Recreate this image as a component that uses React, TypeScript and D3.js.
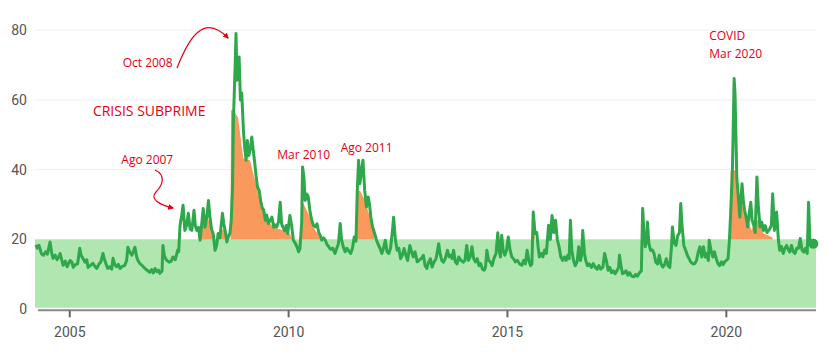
import { useEffect, useRef } from "react";
import * as d3 from "d3";

// VIX weekly close as [decimal year, value]
const vix2004to2007: [number, number][] = [
    [2004.24, 18.5], [2004.27, 17.5], [2004.31, 18.3], [2004.36, 16], [2004.41, 15.5], [2004.46, 16.5],
    [2004.5, 15.8], [2004.56, 19.3], [2004.6, 16], [2004.63, 14.6], [2004.68, 15.5], [2004.72, 14.2],
    [2004.76, 15], [2004.79, 16], [2004.83, 14], [2004.86, 12.6], [2004.91, 13.8], [2004.95, 12.2],
    [2005.02, 14], [2005.06, 13.5], [2005.09, 12], [2005.14, 12.8], [2005.19, 13], [2005.24, 17.5],
    [2005.27, 15.5], [2005.31, 14.6], [2005.36, 13.5], [2005.4, 14.2], [2005.43, 12], [2005.48, 12.5],
    [2005.54, 13.2], [2005.58, 12.4], [2005.63, 11.7], [2005.68, 13], [2005.72, 13.5], [2005.77, 16],
    [2005.8, 14.5], [2005.84, 13], [2005.88, 11.7], [2005.93, 12.2], [2005.97, 11.5], [2006.0, 14.6],
    [2006.04, 12.8], [2006.08, 12.2], [2006.12, 12.9], [2006.16, 11.7], [2006.21, 12.3], [2006.27, 12.6],
    [2006.31, 14], [2006.34, 17.8], [2006.38, 16.5], [2006.43, 15.5], [2006.46, 16.4], [2006.5, 17.8],
    [2006.54, 15], [2006.57, 14], [2006.62, 13], [2006.67, 12.5], [2006.73, 11.7], [2006.78, 11.2],
    [2006.84, 10.6], [2006.88, 11.4], [2006.92, 10.4], [2006.96, 11.7], [2007.0, 10.8], [2007.04, 11.2],
    [2007.07, 10.3], [2007.12, 11], [2007.14, 18.3], [2007.17, 15.5], [2007.2, 14.5], [2007.23, 14],
    [2007.28, 13.5], [2007.33, 13.8], [2007.37, 15], [2007.42, 14.2], [2007.48, 17], [2007.5, 16.5],
    [2007.53, 24], [2007.57, 27], [2007.6, 29.8], [2007.64, 22.6], [2007.68, 24], [2007.72, 27.5],
    [2007.76, 23], [2007.8, 22.6], [2007.85, 28.4], [2007.88, 24], [2007.91, 22.6], [2007.95, 23.5],
    [2007.99, 19.8],
];

const vix2008to2011: [number, number][] = [
    [2008.03, 25], [2008.06, 28.9], [2008.1, 23.5], [2008.14, 26], [2008.18, 31.2], [2008.21, 27],
    [2008.25, 23], [2008.29, 21.5], [2008.33, 16.9], [2008.37, 18.5], [2008.4, 21.7], [2008.44, 20.5],
    [2008.47, 24], [2008.5, 27.5], [2008.53, 24.5], [2008.57, 22], [2008.6, 19.3], [2008.64, 21],
    [2008.67, 21.7], [2008.7, 25.5], [2008.73, 35], [2008.75, 54], [2008.77, 62], [2008.79, 70],
    [2008.81, 79], [2008.83, 65.6], [2008.85, 70], [2008.88, 72.3], [2008.91, 60], [2008.94, 62],
    [2008.98, 51], [2009.01, 46], [2009.04, 42.7], [2009.07, 48.4], [2009.1, 44], [2009.13, 45.6],
    [2009.15, 47], [2009.17, 49.4], [2009.2, 46], [2009.23, 42.7], [2009.27, 38], [2009.3, 35],
    [2009.34, 34], [2009.37, 31.2], [2009.41, 29], [2009.44, 28.5], [2009.48, 25.5], [2009.51, 27],
    [2009.55, 24.6], [2009.59, 25.5], [2009.63, 26.4], [2009.67, 23.5], [2009.7, 24.2], [2009.74, 23.6],
    [2009.78, 25], [2009.82, 30.7], [2009.85, 24.5], [2009.88, 23.6], [2009.92, 22.5], [2009.96, 24],
    [2009.99, 21.7], [2010.04, 26.9], [2010.08, 24], [2010.12, 19.8], [2010.16, 19], [2010.2, 18],
    [2010.24, 16.5], [2010.27, 17.4], [2010.31, 25], [2010.33, 40.8], [2010.36, 37.9], [2010.39, 31.2],
    [2010.43, 33], [2010.46, 32.2], [2010.5, 28], [2010.54, 25.5], [2010.58, 24], [2010.62, 23.6],
    [2010.66, 24.5], [2010.7, 22], [2010.74, 21], [2010.77, 19.8], [2010.81, 20.5], [2010.85, 19.8],
    [2010.89, 18.5], [2010.93, 17.9], [2010.97, 17.2], [2011.02, 17.5], [2011.07, 16], [2011.11, 17.5],
    [2011.15, 18.8], [2011.19, 24.6], [2011.22, 20], [2011.26, 17.9], [2011.3, 16.5], [2011.34, 17.5],
    [2011.38, 16.8], [2011.43, 16], [2011.47, 17.5], [2011.51, 20.7], [2011.55, 19.5], [2011.58, 34],
    [2011.61, 42.7], [2011.64, 36], [2011.68, 40], [2011.71, 42.7], [2011.75, 34], [2011.79, 29.3],
    [2011.83, 32.2], [2011.86, 30], [2011.89, 26.4], [2011.93, 23.6], [2011.97, 22],
];

const vix2012to2016: [number, number][] = [
    [2012.02, 19.8], [2012.06, 18.5], [2012.1, 17.5], [2012.14, 16], [2012.18, 17.5], [2012.22, 19.8],
    [2012.26, 16.5], [2012.3, 16], [2012.34, 17.5], [2012.38, 22], [2012.41, 26.4], [2012.45, 20],
    [2012.49, 16.9], [2012.53, 17.5], [2012.57, 14.5], [2012.61, 15.5], [2012.65, 17.4], [2012.69, 15.5],
    [2012.73, 14], [2012.78, 18.3], [2012.82, 16.5], [2012.86, 15], [2012.9, 16.5], [2012.95, 13.6],
    [2013.04, 14.5], [2013.09, 15.5], [2013.13, 12.5], [2013.17, 11.7], [2013.21, 13.5], [2013.25, 14.5],
    [2013.29, 12.1], [2013.33, 13.5], [2013.38, 14.5], [2013.44, 18.8], [2013.47, 16], [2013.51, 14],
    [2013.55, 13.5], [2013.59, 14.5], [2013.64, 16.9], [2013.68, 15], [2013.72, 15.5], [2013.75, 14.5],
    [2013.78, 16.9], [2013.82, 13.6], [2013.86, 13], [2013.9, 15], [2013.95, 14], [2014.0, 13.5],
    [2014.04, 14], [2014.08, 18.3], [2014.12, 14], [2014.16, 15], [2014.2, 17.9], [2014.24, 14.5],
    [2014.28, 13.6], [2014.32, 14.5], [2014.36, 12.5], [2014.4, 13.1], [2014.44, 11.5], [2014.48, 11.2],
    [2014.51, 12.1], [2014.54, 16.9], [2014.58, 14], [2014.62, 13.6], [2014.66, 12.5], [2014.7, 14.5],
    [2014.75, 16], [2014.79, 21.9], [2014.82, 17], [2014.85, 15], [2014.88, 21.2], [2014.91, 17],
    [2014.95, 15.5], [2014.99, 17], [2015.03, 20.7], [2015.07, 17], [2015.11, 15], [2015.15, 14.5],
    [2015.19, 13.6], [2015.24, 14], [2015.29, 13], [2015.34, 12.6], [2015.38, 14], [2015.42, 13],
    [2015.46, 16.9], [2015.5, 14], [2015.54, 12.5], [2015.57, 13], [2015.6, 27.9], [2015.62, 25],
    [2015.64, 21.7], [2015.68, 22], [2015.71, 18], [2015.74, 15], [2015.78, 16], [2015.82, 15],
    [2015.86, 17], [2015.9, 16], [2015.95, 24.1], [2015.99, 20], [2016.03, 26.9], [2016.07, 22],
    [2016.11, 25.5], [2016.15, 20], [2016.19, 17.9], [2016.23, 15], [2016.27, 14], [2016.31, 15],
    [2016.35, 14], [2016.39, 15.5], [2016.42, 14.5], [2016.45, 25.5], [2016.48, 17], [2016.52, 14],
    [2016.56, 12.5], [2016.6, 13.5], [2016.64, 17.9], [2016.68, 14], [2016.71, 16], [2016.73, 22.6],
    [2016.77, 16], [2016.8, 14], [2016.84, 12.5], [2016.88, 13], [2016.93, 12], [2016.97, 13.1],
];

const vix2017to2022: [number, number][] = [
    [2017.02, 12], [2017.06, 11.5], [2017.1, 12.5], [2017.14, 11.5], [2017.19, 12], [2017.23, 16],
    [2017.27, 14], [2017.31, 11.2], [2017.35, 12], [2017.39, 10.5], [2017.43, 11], [2017.47, 10.2],
    [2017.51, 11], [2017.55, 12], [2017.57, 15.5], [2017.61, 12], [2017.64, 10.2], [2017.68, 10.5],
    [2017.72, 11], [2017.76, 9.8], [2017.8, 10.5], [2017.85, 9.5], [2017.9, 9.3], [2017.94, 10],
    [2017.98, 9.5], [2018.03, 10.5], [2018.07, 11], [2018.1, 28.9], [2018.13, 22], [2018.16, 17.9],
    [2018.19, 20], [2018.21, 25], [2018.24, 19], [2018.28, 16.9], [2018.32, 17], [2018.36, 16],
    [2018.4, 13.5], [2018.44, 13], [2018.48, 15.5], [2018.52, 13], [2018.56, 12.1], [2018.6, 12.8],
    [2018.64, 14.5], [2018.68, 12.5], [2018.72, 12], [2018.76, 18], [2018.78, 23.6], [2018.82, 19],
    [2018.86, 18.3], [2018.9, 21], [2018.94, 22], [2018.97, 30.3], [2019.0, 24], [2019.04, 18.3],
    [2019.08, 17], [2019.12, 15.5], [2019.16, 14.5], [2019.2, 13.5], [2019.25, 13], [2019.29, 13.1],
    [2019.33, 14], [2019.37, 16.4], [2019.41, 17.9], [2019.45, 15], [2019.49, 17.9], [2019.53, 15],
    [2019.56, 16], [2019.6, 14], [2019.62, 19.8], [2019.66, 17], [2019.7, 15], [2019.74, 16.5],
    [2019.78, 14.5], [2019.82, 13.1], [2019.86, 12.5], [2019.9, 13.6], [2019.94, 12.8], [2019.97, 13.6],
    [2020.01, 14], [2020.05, 14.5], [2020.08, 19.3], [2020.11, 27.4], [2020.15, 39.8], [2020.19, 66.1],
    [2020.21, 61.8], [2020.25, 37.9], [2020.28, 33.1], [2020.32, 26.4], [2020.37, 36], [2020.4, 31],
    [2020.43, 28.4], [2020.47, 26], [2020.5, 23.6], [2020.53, 27], [2020.57, 30.7], [2020.6, 25.5],
    [2020.64, 24], [2020.67, 22], [2020.71, 37.9], [2020.74, 30], [2020.78, 23.6], [2020.82, 25],
    [2020.86, 22.6], [2020.9, 24], [2020.94, 22], [2021.0, 23], [2021.04, 24], [2021.07, 33.1],
    [2021.11, 22.6], [2021.16, 27.9], [2021.2, 20], [2021.23, 16.9], [2021.27, 18], [2021.31, 16],
    [2021.35, 17.5], [2021.39, 18.3], [2021.43, 17], [2021.46, 16.4], [2021.5, 18.3], [2021.54, 16.5],
    [2021.58, 16], [2021.62, 17.5], [2021.66, 17.5], [2021.7, 20.3], [2021.74, 17], [2021.78, 16.4],
    [2021.82, 17.5], [2021.86, 16], [2021.89, 30.7], [2021.92, 20], [2021.96, 17.9], [2022.0, 18.8],
];

// smoothed level shaded in orange where it sits above 20
const stress2008: [number, number][] = [
    [2007.94, 20], [2007.99, 23.6], [2008.1, 24], [2008.19, 25.7], [2008.26, 22], [2008.31, 20],
    [2008.4, 20], [2008.44, 22], [2008.54, 23.2], [2008.6, 20],
];
const stressCrisis: [number, number][] = [
    [2008.684, 20], [2008.695, 57], [2008.75, 57], [2008.855, 55], [2008.976, 43.2], [2009.129, 42.7],
    [2009.243, 37], [2009.357, 31.2], [2009.511, 25.5], [2009.662, 23.6], [2009.89, 22.6],
    [2010.04, 21.7], [2010.1, 20],
];
const stress2010: [number, number][] = [
    [2010.3, 20], [2010.311, 31.2], [2010.36, 30], [2010.462, 27.4], [2010.576, 23.6], [2010.72, 20.7],
    [2010.75, 20],
];
const stress2011: [number, number][] = [
    [2011.55, 20], [2011.56, 34], [2011.643, 34], [2011.757, 31.2], [2011.833, 27.9], [2011.91, 25.5],
    [2011.97, 20.3], [2011.99, 20],
];
const stress2015: [number, number][] = [
    [2015.59, 20], [2015.6, 22.6], [2015.63, 22.6], [2015.64, 20],
];
const stressCovid: [number, number][] = [
    [2020.1, 20], [2020.11, 39.8], [2020.24, 39.8], [2020.3, 32], [2020.33, 31.2], [2020.48, 26.4],
    [2020.59, 22.6], [2020.67, 25.5], [2020.78, 25.5], [2020.86, 21.7], [2021.05, 20.7], [2021.08, 20],
];

const yTicks = [0, 20, 40, 60, 80];
const xTicks = [2005, 2010, 2015, 2020];
const threshold = 20;

const notes = [
    { text: "Oct 2008", year: 2006.22, value: 70.5, size: 12 },
    { text: "CRISIS SUBPRIME", year: 2005.54, value: 56.8, size: 14 },
    { text: "Ago 2007", year: 2006.19, value: 42.8, size: 12 },
    { text: "Mar 2010", year: 2009.75, value: 44.3, size: 12 },
    { text: "Ago 2011", year: 2011.2, value: 46.2, size: 12 },
    { text: "COVID", year: 2019.62, value: 78.3, size: 12 },
    { text: "Mar 2020", year: 2019.62, value: 73.3, size: 12 },
];

export default function App() {
    const svgRef = useRef<SVGSVGElement>(null);

    useEffect(() => {
        if (!svgRef.current) return;
        const width = 826;
        const height = 352;
        const red = "#e3000f";
        const green = "#2ea84a";

        const svg = d3.select(svgRef.current);
        svg.selectAll("*").remove();
        svg.attr("width", width).attr("height", height);

        const x = d3.scaleLinear().domain([2004.24, 2022.06]).range([36, 816]);
        const y = d3.scaleLinear().domain([0, 80]).range([309.3, 30.1]);

        // gridlines
        svg.append("g")
            .selectAll("line")
            .data(yTicks.filter((d) => d > 0))
            .enter()
            .append("line")
            .attr("x1", 35)
            .attr("x2", 816)
            .attr("y1", (d) => y(d))
            .attr("y2", (d) => y(d))
            .style("stroke", "#ededed")
            .style("stroke-width", 1);

        // band under the threshold
        svg.append("rect")
            .attr("x", x.range()[0] - 1)
            .attr("y", y(threshold))
            .attr("width", x.range()[1] - x.range()[0] + 1)
            .attr("height", y(0) - y(threshold) - 1.5)
            .style("fill", "#b0e6b0");

        // orange areas above 20
        const area = d3
            .area<[number, number]>()
            .x((d) => x(d[0]))
            .y0(y(threshold))
            .y1((d) => y(d[1]));
        [stress2008, stressCrisis, stress2010, stress2011, stress2015, stressCovid].forEach((s) => {
            svg.append("path").datum(s).attr("d", area).style("fill", "#f99a5c");
        });

        // VIX line
        const series = [...vix2004to2007, ...vix2008to2011, ...vix2012to2016, ...vix2017to2022];
        const line = d3
            .line<[number, number]>()
            .x((d) => x(d[0]))
            .y((d) => y(d[1]));
        svg.append("path")
            .datum(series)
            .attr("d", line)
            .style("fill", "none")
            .style("stroke", green)
            .style("stroke-width", 3)
            .style("stroke-linejoin", "round");

        const last = series[series.length - 1];
        svg.append("circle")
            .attr("cx", x(last[0]))
            .attr("cy", y(last[1]))
            .attr("r", 5)
            .style("fill", green);

        // y axis labels
        const yAxis = svg
            .append("g")
            .attr("transform", "translate(35,0)")
            .call(d3.axisLeft(y).tickValues(yTicks).tickSize(0).tickPadding(8));
        yAxis.select(".domain").remove();
        yAxis.selectAll("text")
            .style("font-family", "Roboto, sans-serif")
            .style("font-size", "14px")
            .style("fill", "#555");

        // x axis
        const xAxis = svg
            .append("g")
            .attr("transform", `translate(0,${y(0) + 1})`)
            .call(
                d3
                    .axisBottom(x)
                    .tickValues(xTicks)
                    .tickFormat(d3.format("d"))
                    .tickSize(7)
                    .tickSizeOuter(0)
                    .tickPadding(10),
            );
        xAxis.select(".domain")
            .attr("d", `M${x.range()[0] + 2},0H${x.range()[1]}`)
            .style("stroke", "#888")
            .style("stroke-width", 2);
        xAxis.selectAll(".tick line").style("stroke", "#666").style("stroke-width", 2);
        xAxis.selectAll("text")
            .style("font-family", "Roboto, sans-serif")
            .style("font-size", "14px")
            .style("fill", "#555");

        // annotations
        svg.append("defs")
            .append("marker")
            .attr("id", "arrow")
            .attr("viewBox", "0 0 10 10")
            .attr("refX", 8)
            .attr("refY", 5)
            .attr("markerWidth", 5)
            .attr("markerHeight", 5)
            .attr("orient", "auto")
            .append("path")
            .attr("d", "M0,0L10,5L0,10z")
            .style("fill", red);

        svg.append("g")
            .selectAll("text")
            .data(notes)
            .enter()
            .append("text")
            .attr("x", (d) => x(d.year))
            .attr("y", (d) => y(d.value))
            .attr("dy", "0.35em")
            .text((d) => d.text)
            .style("font-family", "'Open Sans', sans-serif")
            .style("font-size", (d) => `${d.size}px`)
            .style("fill", red);

        svg.append("path")
            .attr("d", "M177,68 C188,40 203,12 228,38")
            .attr("marker-end", "url(#arrow)")
            .style("fill", "none")
            .style("stroke", red)
            .style("stroke-width", 1.2);
        svg.append("path")
            .attr("d", "M155,170 C166,175 163,185 156,192 C149,199 160,205 173,208")
            .attr("marker-end", "url(#arrow)")
            .style("fill", "none")
            .style("stroke", red)
            .style("stroke-width", 1.2);
    }, []);

    return (
        <svg
            ref={svgRef}
            style={{ position: "absolute", left: 0, top: 0, background: "#fff" }}
        ></svg>
    );
}
